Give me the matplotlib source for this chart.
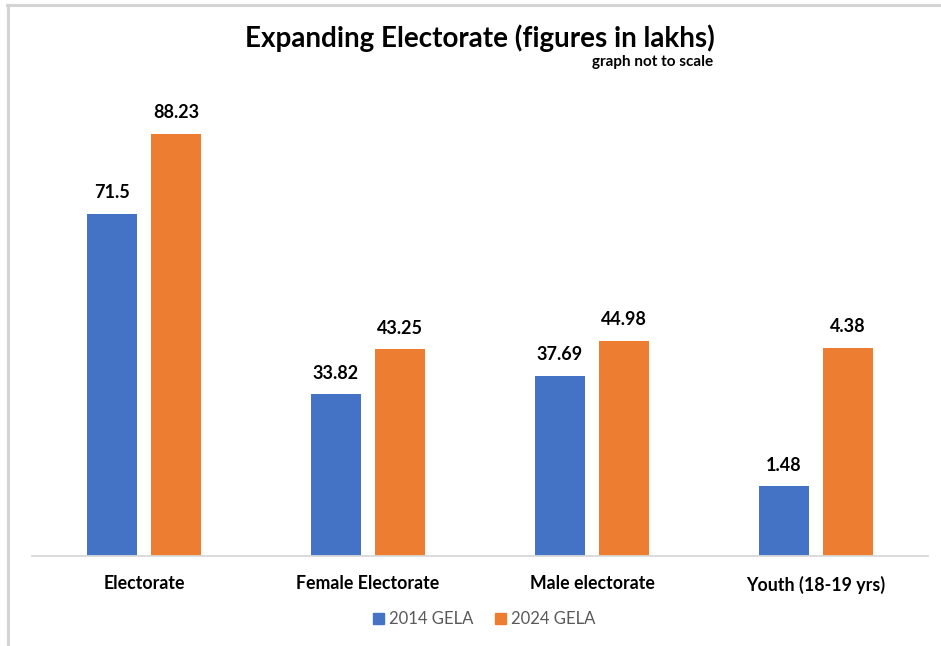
import matplotlib
matplotlib.use("Agg")
import matplotlib.pyplot as plt
import numpy as np
from matplotlib.lines import Line2D

categories = ["Electorate", "Female Electorate", "Male electorate", "Youth (18-19 yrs)"]
series_names = ["2014 GELA", "2024 GELA"]
values_2014 = [71.5, 33.82, 37.69, 1.48]
values_2024 = [88.23, 43.25, 44.98, 4.38]
# drawn heights ("graph not to scale"): youth bars are exaggerated in the source
heights_2014 = [71.5, 33.82, 37.69, 14.6]
heights_2024 = [88.23, 43.25, 44.98, 43.5]

colors = ["#4472C4", "#ED7D31"]
FONT = "Lato"

fig = plt.figure(figsize=(9.41, 6.46), dpi=100)
W, H = 941, 646
ax = fig.add_axes([32 / W, (646 - 556) / H, 896 / W, (556 - 90) / H])

x = np.arange(len(categories))
bw = 0.223
off = 0.143
b1 = ax.bar(x - off, heights_2014, bw, color=colors[0], label=series_names[0])
b2 = ax.bar(x + off, heights_2024, bw, color=colors[1], label=series_names[1])

for bars, vals in ((b1, values_2014), (b2, values_2024)):
    for r, v in zip(bars, vals):
        ax.annotate(f"{v:g}", (r.get_x() + r.get_width() / 2, r.get_height()),
                    xytext=(0, 9), textcoords="offset points", ha="center", va="bottom",
                    fontsize=13, fontweight="bold", family=FONT, color="#000000")

ax.set_xlim(-0.5, len(categories) - 0.5)
ax.set_ylim(0, 466 / 4.785)
for s in ["top", "right", "left"]:
    ax.spines[s].set_visible(False)
ax.spines["bottom"].set_color("#D9D9D9")
ax.spines["bottom"].set_linewidth(1.3)
ax.set_yticks([])
ax.set_xticks(x)
ax.set_xticklabels(categories, fontsize=12.8, fontweight="bold", family=FONT)
ax.tick_params(axis="x", length=0, pad=14)

fig.text(480 / W, 1 - 38 / H, "Expanding Electorate (figures in lakhs)", ha="center", va="center",
         fontsize=20, fontweight="bold", family=FONT)
fig.text(713 / W, 1 - 62 / H, "graph not to scale", ha="right", va="center",
         fontsize=11, fontweight="bold", family=FONT)

handles = [plt.Rectangle((0, 0), 1, 1, color=c) for c in colors]
leg = fig.legend(handles, series_names, loc="center", bbox_to_anchor=(484 / W, 1 - 619 / H),
                 ncol=2, frameon=False, handlelength=0.65, handleheight=0.65, handletextpad=0.3,
                 columnspacing=1.3, prop={"family": FONT, "size": 12})
for t in leg.get_texts():
    t.set_color("#595959")

# outer border (top and left gray lines)
fig.add_artist(Line2D([7 / W, 1], [1 - 5 / H, 1 - 5 / H], color="#D4D4D4", lw=2.2, transform=fig.transFigure))
fig.add_artist(Line2D([8 / W, 8 / W], [0, 1 - 5 / H], color="#D4D4D4", lw=2.2, transform=fig.transFigure))

fig.savefig("out.png", dpi=100)
